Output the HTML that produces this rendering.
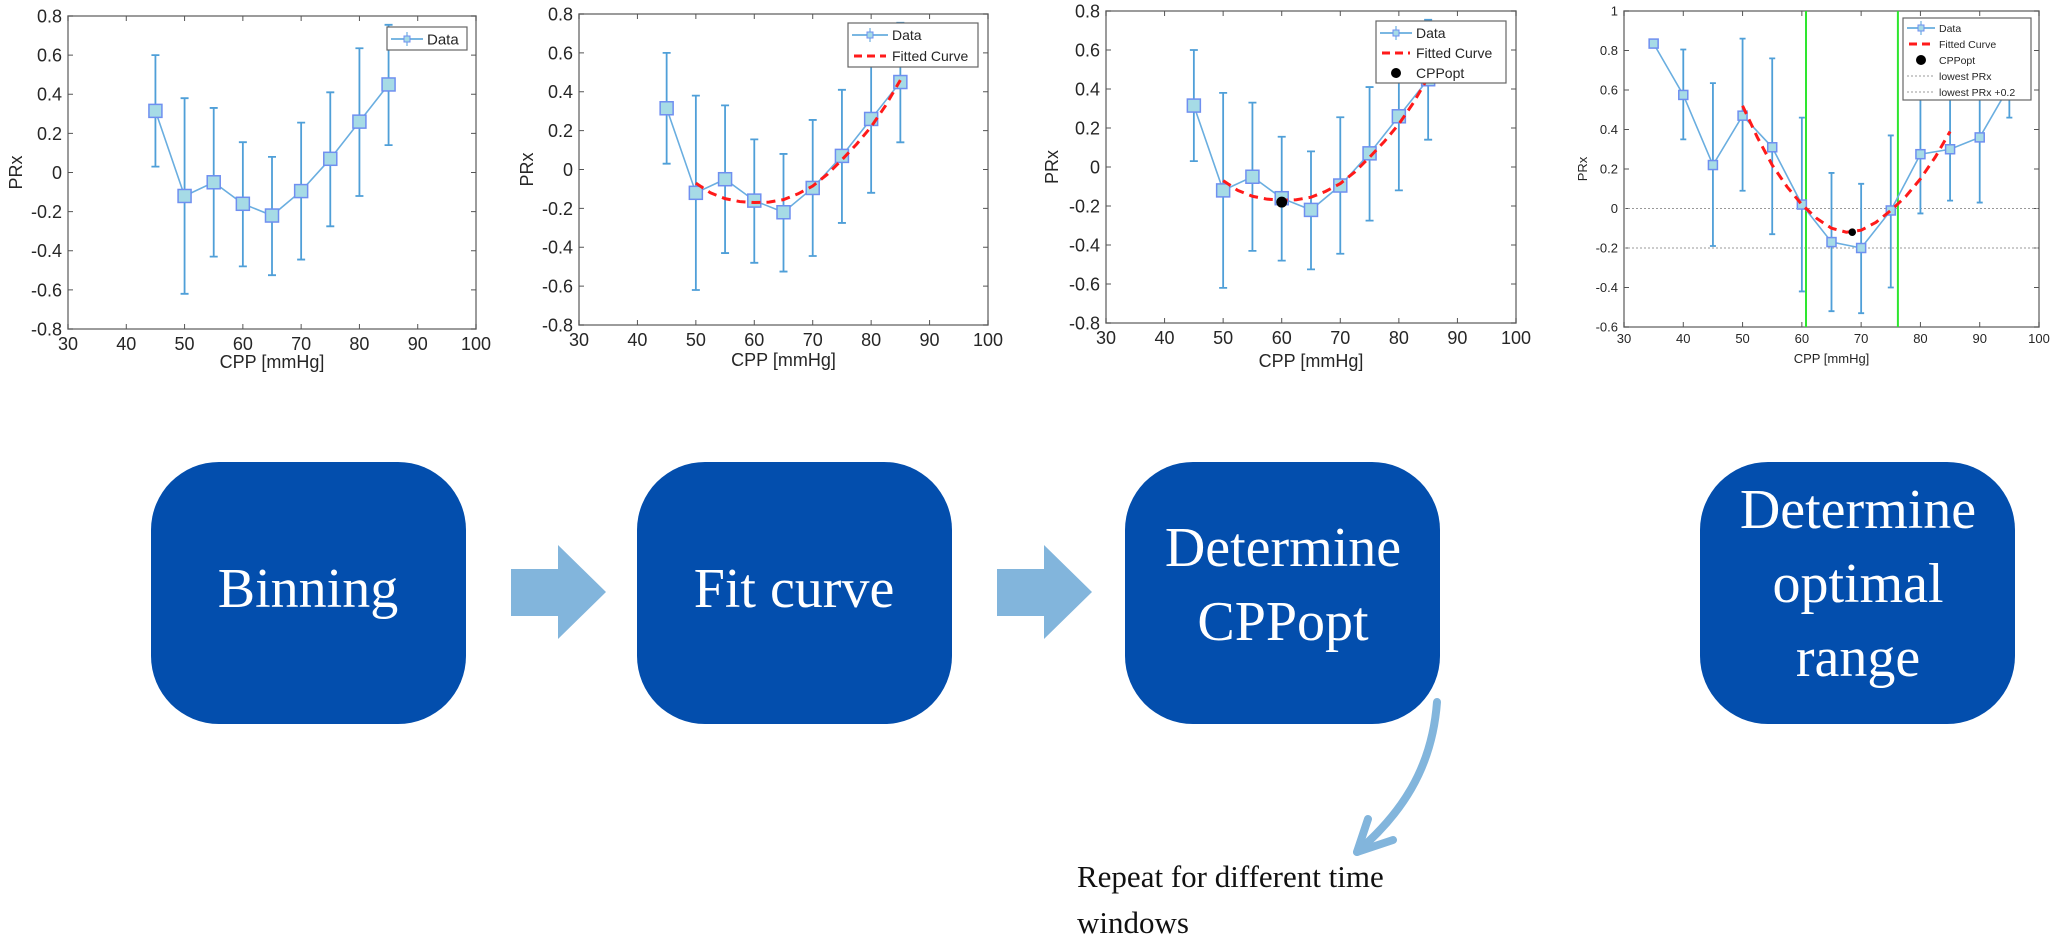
<!DOCTYPE html>
<html><head><meta charset="utf-8">
<style>
html,body{margin:0;padding:0;background:#fff;}
body{width:2055px;height:940px;overflow:hidden;position:relative;}
svg{position:absolute;left:0;top:0;}
</style></head>
<body>
<svg id="fig" width="2055" height="940" viewBox="0 0 2055 940" xmlns="http://www.w3.org/2000/svg">
  <g id="charts"></g>
  <g id="flow">
    <rect x="151" y="462" width="315" height="262" rx="68" fill="#034ead"/>
    <text x="308" y="607" text-anchor="middle" font-family="Liberation Serif, serif" font-size="56" fill="#fff">Binning</text>
    <polygon points="511,569 558,569 558,545 606,592 558,639 558,616 511,616" fill="#82b5dc"/>
    <rect x="637" y="462" width="315" height="262" rx="68" fill="#034ead"/>
    <text x="794" y="607" text-anchor="middle" font-family="Liberation Serif, serif" font-size="56" fill="#fff">Fit curve</text>
    <polygon points="997,569 1044,569 1044,545 1092,592 1044,639 1044,616 997,616" fill="#82b5dc"/>
    <rect x="1125" y="462" width="315" height="262" rx="68" fill="#034ead"/>
    <text x="1283" y="566" text-anchor="middle" font-family="Liberation Serif, serif" font-size="56" fill="#fff">Determine</text>
    <text x="1283" y="640" text-anchor="middle" font-family="Liberation Serif, serif" font-size="56" fill="#fff">CPPopt</text>
    <rect x="1700" y="462" width="315" height="262" rx="68" fill="#034ead"/>
    <text x="1858" y="528" text-anchor="middle" font-family="Liberation Serif, serif" font-size="56" fill="#fff">Determine</text>
    <text x="1858" y="602" text-anchor="middle" font-family="Liberation Serif, serif" font-size="56" fill="#fff">optimal</text>
    <text x="1858" y="676" text-anchor="middle" font-family="Liberation Serif, serif" font-size="56" fill="#fff">range</text>
    <path d="M1437,702 C1432,770 1400,815 1357,852" fill="none" stroke="#82b5dc" stroke-width="8" stroke-linecap="round"/>
    <path d="M1368,819 L1357,852 L1393,840" fill="none" stroke="#82b5dc" stroke-width="8" stroke-linecap="round" stroke-linejoin="round"/>
    <text x="1077" y="887" font-family="Liberation Serif, serif" font-size="31" fill="#111">Repeat for different time</text>
    <text x="1077" y="933" font-family="Liberation Serif, serif" font-size="31" fill="#111">windows</text>
  </g>
</svg>
<script>
// ---- data: charts 1-3 ----
const cppA = [45, 50, 55, 60, 65, 70, 75, 80, 85];
const prxA = [0.315, -0.12, -0.05, -0.16, -0.22, -0.095, 0.07, 0.26, 0.45];
const upA  = [0.60, 0.38, 0.33, 0.155, 0.08, 0.255, 0.41, 0.635, 0.755];
const loA  = [0.03, -0.62, -0.43, -0.48, -0.525, -0.445, -0.275, -0.12, 0.14];
const fitXA = [50, 52.5, 55, 57.5, 60, 62.5, 65, 67.5, 70, 72.5, 75, 77.5, 80, 82.5, 85];
const fitYA = [-0.07, -0.12, -0.15, -0.165, -0.17, -0.168, -0.155, -0.125, -0.085, -0.025, 0.05, 0.13, 0.22, 0.33, 0.46];
const optA = [60, -0.18];
// ---- data: chart 4 ----
const cppB = [35, 40, 45, 50, 55, 60, 65, 70, 75, 80, 85, 90, 95];
const prxB = [0.835, 0.575, 0.22, 0.47, 0.31, 0.02, -0.17, -0.2, -0.01, 0.275, 0.30, 0.36, 0.62];
const upB  = [0.835, 0.805, 0.635, 0.86, 0.76, 0.46, 0.18, 0.125, 0.37, 0.58, 0.60, 0.60, 0.78];
const loB  = [0.835, 0.35, -0.19, 0.09, -0.13, -0.42, -0.52, -0.53, -0.40, -0.025, 0.04, 0.03, 0.46];
const fitXB = [50, 52.5, 55, 57.5, 60, 62.5, 65, 67.5, 70, 72.5, 75, 77.5, 80, 82.5, 85];
const fitYB = [0.52, 0.36, 0.22, 0.11, 0.02, -0.05, -0.10, -0.12, -0.11, -0.07, -0.01, 0.06, 0.15, 0.26, 0.39];
const optB = [68.5, -0.12];
const hLinesB = [0, -0.2];
const rangeB = [60.7, 76.2];
// ticks
const xTicks = [30, 40, 50, 60, 70, 80, 90, 100];
const yTicksA = [-0.8, -0.6, -0.4, -0.2, 0, 0.2, 0.4, 0.6, 0.8];
const yTicksB = [-0.6, -0.4, -0.2, 0, 0.2, 0.4, 0.6, 0.8, 1];
const yTickLabelsA = ['-0.8','-0.6','-0.4','-0.2','0','0.2','0.4','0.6','0.8'];
const yTickLabelsB = ['-0.6','-0.4','-0.2','0','0.2','0.4','0.6','0.8','1'];

const NS = 'http://www.w3.org/2000/svg';
const root = document.getElementById('charts');
function mk(tag, attrs, parent) {
  const e = document.createElementNS(NS, tag);
  for (const k in attrs) e.setAttribute(k, attrs[k]);
  (parent || root).appendChild(e);
  return e;
}
const FONT = 'Liberation Sans, sans-serif';

function drawChart(cfg) {
  const g = mk('g', {});
  
  
  const L = cfg.l, R = cfg.r, T = cfg.t, B = cfg.b;
  const sx = v => L + (v - 30) / 70 * (R - L);
  const sy = v => T + (cfg.ymax - v) / (cfg.ymax - cfg.ymin) * (B - T);
  const fs = cfg.fs;
  const box = mk('rect', {x: L, y: T, width: R - L, height: B - T, fill: 'none', stroke: '#7a7a7a', 'stroke-width': 1.5}, g);
  
  
  xTicks.forEach(v => {
    const x = sx(v);
    mk('line', {x1: x, x2: x, y1: B, y2: B - 5, stroke: '#555'}, g);
    mk('line', {x1: x, x2: x, y1: T, y2: T + 5, stroke: '#555'}, g);
    const t = mk('text', {x: x, y: B + fs + 3, 'text-anchor': 'middle', 'font-family': FONT, 'font-size': fs, fill: '#262626'}, g);
    t.textContent = v;
    
    
  });
  cfg.yTicks.forEach((v, i) => {
    const y = sy(v);
    mk('line', {x1: L, x2: L + 5, y1: y, y2: y, stroke: '#555'}, g);
    mk('line', {x1: R, x2: R - 5, y1: y, y2: y, stroke: '#555'}, g);
    const t = mk('text', {x: L - 6, y: y + fs * 0.36, 'text-anchor': 'end', 'font-family': FONT, 'font-size': fs, fill: '#262626'}, g);
    t.textContent = cfg.yLabels[i];
    
    
  });
  const xt = mk('text', {x: (L + R) / 2, y: cfg.xtY, 'text-anchor': 'middle', 'font-family': FONT, 'font-size': fs, fill: '#262626'}, g);
  xt.textContent = 'CPP [mmHg]';
  
  
  const yt = mk('text', {x: cfg.ytX, y: (T + B) / 2, 'text-anchor': 'middle', 'font-family': FONT, 'font-size': fs, fill: '#262626', transform: `rotate(-90 ${cfg.ytX} ${(T + B) / 2})`}, g);
  yt.textContent = 'PRx';
  
  
  if (cfg.hLines) cfg.hLines.forEach(v => {
    const l = mk('line', {x1: L, x2: R, y1: sy(v), y2: sy(v), stroke: '#999', 'stroke-dasharray': '2,2'}, g);
    
    
  });
  if (cfg.range) cfg.range.forEach(v => {
    const l = mk('line', {x1: sx(v), x2: sx(v), y1: T, y2: B, stroke: '#2ee62e', 'stroke-width': 2}, g);
    
    
  });
  const cap = cfg.cap;
  cfg.xs.forEach((v, i) => {
    const x = sx(v);
    if (cfg.up[i] === cfg.lo[i]) return;
    const eb = mk('path', {d: `M${x},${sy(cfg.up[i])}V${sy(cfg.lo[i])}M${x - cap},${sy(cfg.up[i])}h${2 * cap}M${x - cap},${sy(cfg.lo[i])}h${2 * cap}`, stroke: '#4f9fd8', 'stroke-width': 1.8, fill: 'none'}, g);
    
    
  });
  const line = mk('polyline', {points: cfg.xs.map((v, i) => sx(v) + ',' + sy(cfg.ys[i])).join(' '), fill: 'none', stroke: '#6aaee0', 'stroke-width': 1.6}, g);
  
  
  const ms = cfg.ms;
  cfg.xs.forEach((v, i) => {
    const m = mk('rect', {x: sx(v) - ms / 2, y: sy(cfg.ys[i]) - ms / 2, width: ms, height: ms, fill: '#a6dbe6', stroke: '#6f8ff0', 'stroke-width': 1.5}, g);
    
    
  });
  if (cfg.fitX) {
    const f = mk('polyline', {points: cfg.fitX.map((v, i) => sx(v) + ',' + sy(cfg.fitY[i])).join(' '), fill: 'none', stroke: '#ff1a1a', 'stroke-width': 3, 'stroke-dasharray': '9,6'}, g);
    
    
  }
  if (cfg.opt) {
    const c = mk('circle', {cx: sx(cfg.opt[0]), cy: sy(cfg.opt[1]), r: cfg.ms * 0.42, fill: '#000'}, g);
    
    
  }
  const lg = cfg.legend;
  const lgg = mk('g', {}, g);
  
  
  mk('rect', {x: lg.x, y: lg.y, width: lg.w, height: lg.h, fill: '#fff', stroke: '#666', 'stroke-width': 1.2}, lgg);
  lg.items.forEach((it, i) => {
    const cy = lg.y + lg.row0 + i * lg.dy;
    const x0 = lg.x + 4, x1 = lg.x + lg.sym;
    if (it === 'Data') {
      mk('line', {x1: x0, x2: x1, y1: cy, y2: cy, stroke: '#4f9fd8', 'stroke-width': 1.5}, lgg);
      mk('line', {x1: (x0 + x1) / 2, x2: (x0 + x1) / 2, y1: cy - 7, y2: cy + 7, stroke: '#4f9fd8'}, lgg);
      mk('rect', {x: (x0 + x1) / 2 - 3, y: cy - 3, width: 6, height: 6, fill: '#a6dbe6', stroke: '#6f8ff0'}, lgg);
    } else if (it === 'Fitted Curve') {
      mk('line', {x1: x0 + 2, x2: x1 - 2, y1: cy, y2: cy, stroke: '#ff1a1a', 'stroke-width': 3, 'stroke-dasharray': '8,5'}, lgg);
    } else if (it === 'CPPopt') {
      mk('circle', {cx: (x0 + x1) / 2, cy: cy, r: 5, fill: '#000'}, lgg);
    } else {
      mk('line', {x1: x0, x2: x1, y1: cy, y2: cy, stroke: '#999', 'stroke-dasharray': '2,2'}, lgg);
    }
    const t = mk('text', {x: x1 + 4, y: cy + lg.fs * 0.36, 'font-family': FONT, 'font-size': lg.fs, fill: '#262626'}, lgg);
    t.textContent = it;
    
    
  });
}

drawChart({name: 'chart-binning', l: 68, r: 476, t: 16, b: 329, ymin: -0.8, ymax: 0.8, yTicks: yTicksA, yLabels: yTickLabelsA,
  fs: 18, xtY: 368, ytX: 22, xs: cppA, ys: prxA, up: upA, lo: loA, cap: 4, ms: 13,
  legend: {x: 387, y: 27, w: 80, h: 23, row0: 12, dy: 0, sym: 36, fs: 15, items: ['Data']}});
drawChart({name: 'chart-fit-curve', l: 579, r: 988, t: 14, b: 325, ymin: -0.8, ymax: 0.8, yTicks: yTicksA, yLabels: yTickLabelsA,
  fs: 18, xtY: 366, ytX: 533, xs: cppA, ys: prxA, up: upA, lo: loA, cap: 4, ms: 13, fitX: fitXA, fitY: fitYA,
  legend: {x: 848, y: 23, w: 130, h: 44, row0: 12, dy: 21, sym: 40, fs: 14, items: ['Data', 'Fitted Curve']}});
drawChart({name: 'chart-cppopt', l: 1106, r: 1516, t: 11, b: 323, ymin: -0.8, ymax: 0.8, yTicks: yTicksA, yLabels: yTickLabelsA,
  fs: 18, xtY: 367, ytX: 1058, xs: cppA, ys: prxA, up: upA, lo: loA, cap: 4, ms: 13, fitX: fitXA, fitY: fitYA, opt: optA,
  legend: {x: 1376, y: 21, w: 130, h: 62, row0: 12, dy: 20, sym: 36, fs: 14, items: ['Data', 'Fitted Curve', 'CPPopt']}});
drawChart({name: 'chart-optimal-range', l: 1624, r: 2039, t: 11, b: 327, ymin: -0.6, ymax: 1.0, yTicks: yTicksB, yLabels: yTickLabelsB,
  fs: 13, xtY: 363, ytX: 1587, xs: cppB, ys: prxB, up: upB, lo: loB, cap: 3, ms: 9, fitX: fitXB, fitY: fitYB, opt: optB,
  hLines: hLinesB, range: rangeB,
  legend: {x: 1903, y: 18, w: 128, h: 82, row0: 10, dy: 16, sym: 32, fs: 10.5, items: ['Data', 'Fitted Curve', 'CPPopt', 'lowest PRx', 'lowest PRx +0.2']}});
</script>
</body></html>
